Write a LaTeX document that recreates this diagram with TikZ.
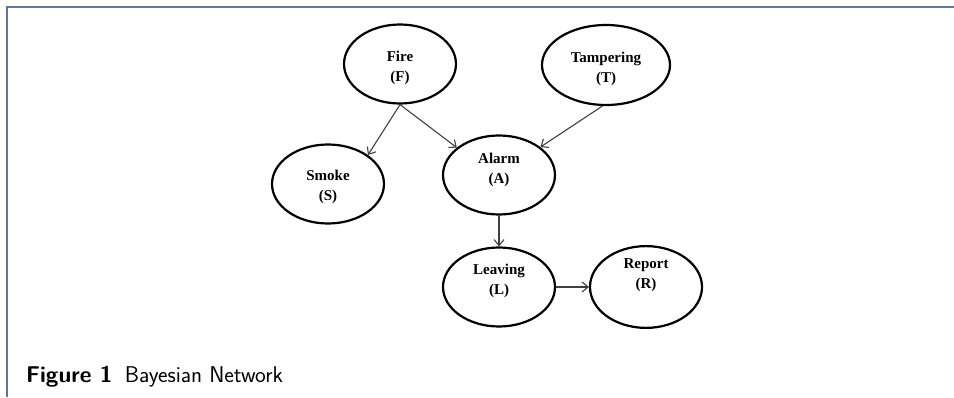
\documentclass[tikz,border=0pt]{standalone}
\usepackage{fontspec}
\setmainfont{Liberation Serif}
\usepackage{tikz}
\usetikzlibrary{arrows.meta,shapes.geometric}
\definecolor{framegray}{RGB}{91,122,153}

\begin{document}
\begin{tikzpicture}[x=1pt,y=1pt,>={Straight Barb[length=6pt,width=10pt]},
  bn_node/.style={draw=black,ellipse,line width=2.2pt,minimum width=112pt,minimum height=79pt,align=center,font=\fontsize{15}{20}\selectfont\bfseries,inner sep=1pt},
  bn_edge/.style={->,line width=1.1pt,draw=black!75}]
\useasboundingbox (0,0) rectangle (954,397);
% frame of the figure
\draw[framegray,line width=2pt] (7,0)--(7,390)--(954,390);
\node[bn_node,text height=38pt] (bn_fire) at (400,333) {Fire\\(F)};
\node[bn_node,minimum width=128pt,minimum height=80pt,text height=39pt] (bn_tamp) at (606,332) {Tampering\\(T)};
\node[bn_node,text height=36pt] (bn_smoke) at (328,213) {Smoke\\(S)};
\node[bn_node,text depth=13pt] (bn_alarm) at (499,222) {Alarm\\(A)};
\node[bn_node,text depth=15pt] (bn_leave) at (499,110) {Leaving\\(L)};
\node[bn_node,text depth=26pt] (bn_report) at (646,110) {Report\\(R)};
\draw[bn_edge] (bn_fire.south)--(bn_smoke.36);
\draw[bn_edge] (bn_fire.south)--(bn_alarm.147);
\draw[bn_edge] (bn_tamp.265)--(bn_alarm.34);
\draw[bn_edge] (bn_alarm.south)--(bn_leave.north);
\draw[bn_edge] (bn_leave.east)--(bn_report.west);
\node[anchor=base west,inner sep=0pt,font=\sffamily\fontsize{22.8}{25}\selectfont] (bn_caption) at (26,15) {\textbf{Figure 1}\hspace{0.55em}Bayesian Network};
\end{tikzpicture}
\end{document}
